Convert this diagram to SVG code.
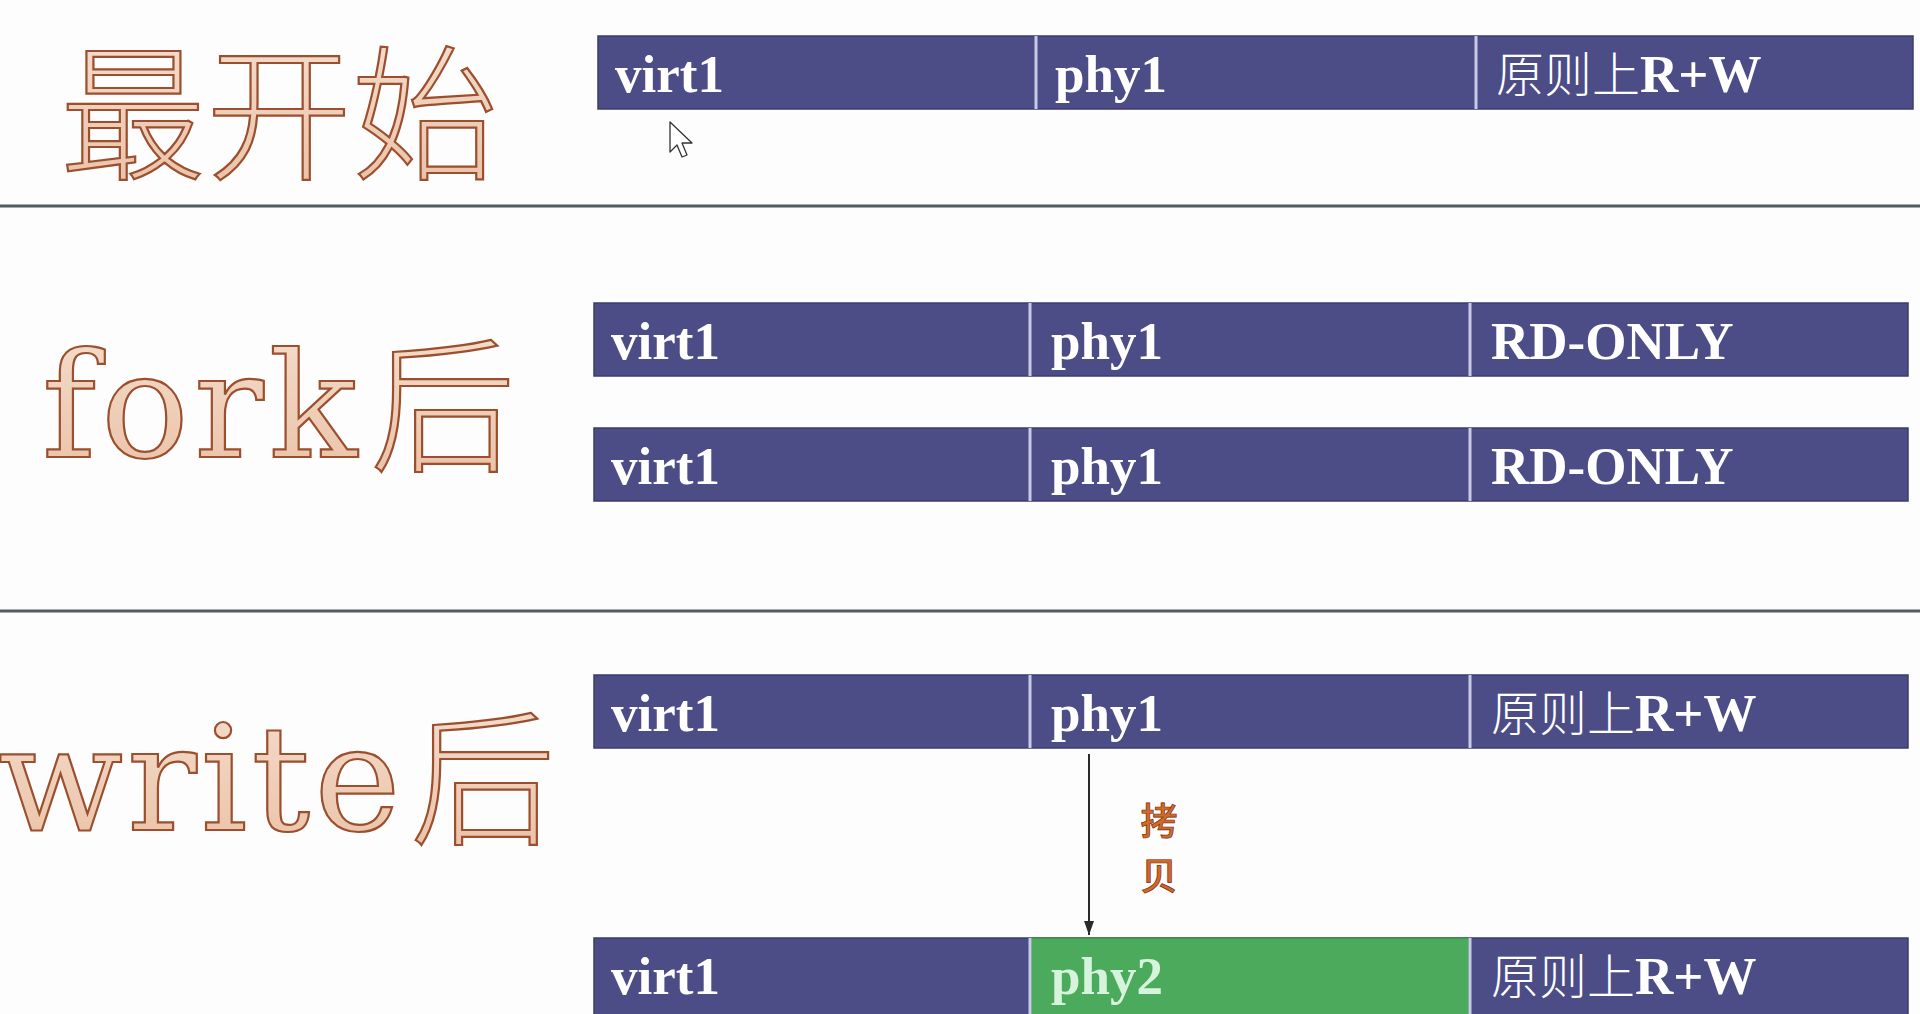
<svg xmlns="http://www.w3.org/2000/svg" width="1920" height="1014" viewBox="0 0 1920 1014">
<defs>
<linearGradient id="peach" x1="0" y1="0" x2="0" y2="1">
<stop offset="0" stop-color="#f6e2d4"/>
<stop offset="1" stop-color="#e9bfa2"/>
</linearGradient>
<marker id="ah" viewBox="0 0 14 10" refX="14" refY="5" markerWidth="14" markerHeight="10" markerUnits="userSpaceOnUse" orient="auto">
<path d="M0,0 L14,5 L0,10 Z" fill="#2a2a2a"/>
</marker>
<style>
.bar{fill:#4c4d87;stroke:#3b3c6c;stroke-width:1.5}
.green{fill:#4caa5c;stroke:#3f8f4d;stroke-width:1.5}
.div{stroke:#c9cbe6;stroke-width:3}
.cell{font-family:"Liberation Serif","Noto Sans CJK SC",serif;font-weight:bold;font-size:53px;fill:#ffffff}
.cjk{font-family:"Noto Sans CJK SC",sans-serif;font-weight:300;font-size:48px}
.big{font-family:"DejaVu Serif","Liberation Serif",serif;font-size:146px;fill:url(#peach);stroke:#9c4f2e;stroke-width:2.2}
.bigcjk{font-family:"Noto Sans CJK SC",sans-serif;font-weight:300;font-size:146px}
.sep{stroke:#505c62;stroke-width:3}
.copy{font-family:"Noto Sans CJK SC",sans-serif;font-weight:500;font-size:37px;fill:#cf6a2a;stroke:#7a2a10;stroke-width:0.7}
</style>
</defs>
<rect width="1920" height="1014" fill="#fdfdfd"/>

<g id="separators">
<line class="sep" x1="0" y1="206" x2="1920" y2="206"/>
<line class="sep" x1="0" y1="611" x2="1920" y2="611" stroke="#607880"/>
</g>

<g id="label-start">
<text class="big bigcjk" x="60" y="168">最开始</text>
</g>
<g id="label-fork">
<text class="big" x="42" y="457" letter-spacing="5">fork<tspan class="bigcjk" x="370" y="460" letter-spacing="0">后</tspan></text>
</g>
<g id="label-write">
<text class="big" x="-2" y="830" letter-spacing="4">write<tspan class="bigcjk" x="410" y="833" letter-spacing="0">后</tspan></text>
</g>

<g id="row-start">
<rect class="bar" x="598" y="36" width="1315" height="73"/>
<line class="div" x1="1036" y1="36" x2="1036" y2="109"/>
<line class="div" x1="1476" y1="36" x2="1476" y2="109"/>
<text class="cell" x="615" y="92">virt1</text>
<text class="cell" x="1055" y="92">phy1</text>
<text class="cell" x="1496" y="92"><tspan class="cjk">原则上</tspan>R+W</text>
</g>

<g id="row-fork-1">
<rect class="bar" x="594" y="303" width="1314" height="73"/>
<line class="div" x1="1030" y1="303" x2="1030" y2="376"/>
<line class="div" x1="1470" y1="303" x2="1470" y2="376"/>
<text class="cell" x="611" y="359">virt1</text>
<text class="cell" x="1051" y="359">phy1</text>
<text class="cell" x="1491" y="359">RD-ONLY</text>
</g>

<g id="row-fork-2">
<rect class="bar" x="594" y="428" width="1314" height="73"/>
<line class="div" x1="1030" y1="428" x2="1030" y2="501"/>
<line class="div" x1="1470" y1="428" x2="1470" y2="501"/>
<text class="cell" x="611" y="484">virt1</text>
<text class="cell" x="1051" y="484">phy1</text>
<text class="cell" x="1491" y="484">RD-ONLY</text>
</g>

<g id="row-write-1">
<rect class="bar" x="594" y="675" width="1314" height="73"/>
<line class="div" x1="1030" y1="675" x2="1030" y2="748"/>
<line class="div" x1="1470" y1="675" x2="1470" y2="748"/>
<text class="cell" x="611" y="731">virt1</text>
<text class="cell" x="1051" y="731">phy1</text>
<text class="cell" x="1491" y="731"><tspan class="cjk">原则上</tspan>R+W</text>
</g>

<g id="row-write-2">
<rect class="bar" x="594" y="938" width="1314" height="80"/>
<rect class="green" x="1031" y="938" width="438" height="80"/>
<line class="div" x1="1030" y1="938" x2="1030" y2="1014"/>
<line class="div" x1="1470" y1="938" x2="1470" y2="1014"/>
<text class="cell" x="611" y="994">virt1</text>
<text class="cell" x="1051" y="994" style="fill:#d6f4dc">phy2</text>
<text class="cell" x="1491" y="994"><tspan class="cjk">原则上</tspan>R+W</text>
</g>

<g id="connectors">
<line x1="1089" y1="754" x2="1089" y2="935" stroke="#2a2a2a" stroke-width="2" marker-end="url(#ah)"/>
<text class="copy" x="1159" y="835" text-anchor="middle">拷</text>
<text class="copy" x="1159" y="890" text-anchor="middle">贝</text>
</g>

<g id="cursor">
<path d="M670,122 L670,152 L677,145 L682,157 L687,155 L682,143 L692,143 Z" fill="#ffffff" stroke="#333" stroke-width="1.3" stroke-linejoin="round"/>
</g>
</svg>
